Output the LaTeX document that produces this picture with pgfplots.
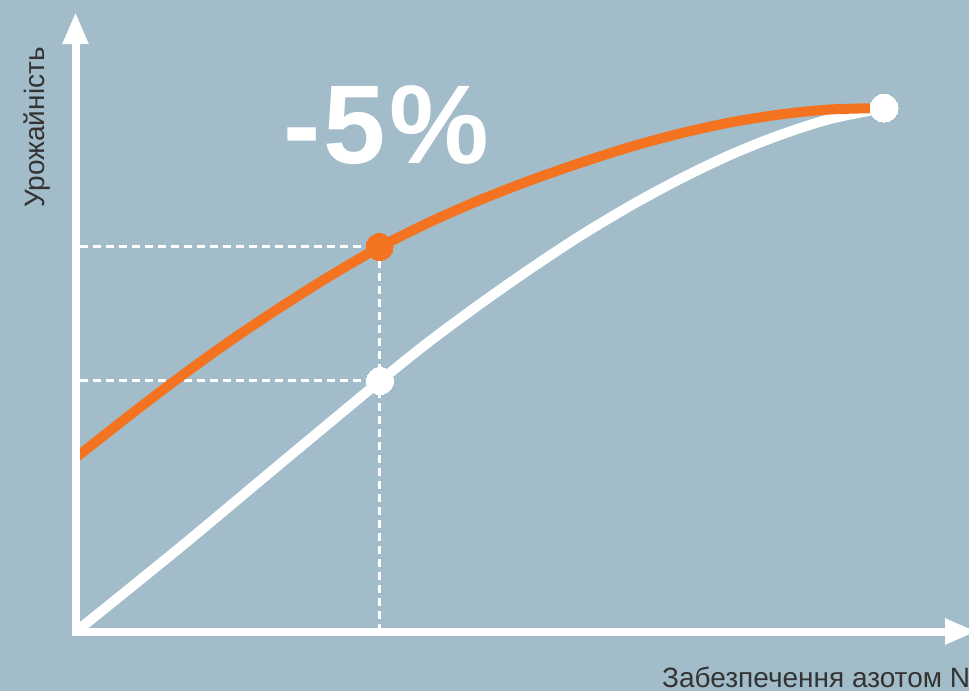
\documentclass[border=0pt]{standalone}
\usepackage{fontspec}
\setmainfont{Liberation Sans}
\usepackage{pgfplots}
\pgfplotsset{compat=1.18}
\usetikzlibrary{arrows.meta}
\definecolor{bg}{RGB}{162,189,201}
\definecolor{org}{RGB}{243,115,33}
\definecolor{txt}{RGB}{51,51,51}
\begin{document}
\begin{tikzpicture}
\useasboundingbox (0,0) rectangle (969pt,691pt);
\clip (0,0) rectangle (969pt,691pt);
\begin{axis}[at={(0,0)}, anchor=south west, scale only axis,
  width=969pt, height=691pt, xmin=0, xmax=969, ymin=0, ymax=691,
  y dir=reverse, axis line style={draw=none}, ticks=none,
  axis background/.style={fill=bg}, clip=false]
% dashed guides
\addplot[white, line width=2.5pt, dash pattern=on 8pt off 5pt] coordinates {(80,246.5)(379.5,246.5)};
\addplot[white, line width=2.5pt, dash pattern=on 8pt off 5pt] coordinates {(80,380.5)(379.5,380.5)};
\addplot[white, line width=2.5pt, dash pattern=on 8pt off 5pt] coordinates {(379.5,247)(379.5,628)};
% white curve
\addplot[white, line width=10pt, smooth] coordinates {
(78,630)(180,547.5)(280,464)(380,381)(430,341)(480,304)(530,269)(580,236)
(630,206)(680,179)(730,155)(780,135)(830,119)(884,108)};
% orange curve
\addplot[org, line width=10pt, smooth] coordinates {
(76,457.5)(130,415)(180,377)(230,341)(280,307.5)(330,276)(380,247)(430,222)
(480,200)(530,180.5)(580,163)(630,147)(680,133.5)(730,122.5)(780,114.5)(830,109.5)(884,108)};
% axes
\addplot[white, line width=8pt, -{Triangle[width=24pt,length=32pt]}] coordinates {(75.5,636)(75.5,12)};
\addplot[white, line width=8pt, -{Triangle[width=24pt,length=32pt]}] coordinates {(71.5,631.5)(977,631.5)};
% markers
\addplot[only marks, color=org, mark=*, mark size=13.5pt, mark options={fill=org, draw=org, line width=0pt}] coordinates {(379.5,247)};
\addplot[only marks, color=white, mark=*, mark size=13.5pt, mark options={fill=white, draw=white, line width=0pt}] coordinates {(380,381)};
\addplot[only marks, color=white, mark=*, mark size=14pt, mark options={fill=white, draw=white, line width=0pt}] coordinates {(884,108)};
% texts
\node[anchor=base west, text=white, font=\fontsize{112}{120}\selectfont\bfseries\addfontfeature{LetterSpace=3}, inner sep=0pt] at (axis cs:283,163) {-5\%};
\node[rotate=90, anchor=base, text=txt, font=\fontsize{28}{32}\selectfont, inner sep=0pt] at (axis cs:44,127.5) {Урожайність};
\node[anchor=base west, text=txt, font=\fontsize{28}{32}\selectfont, inner sep=0pt] at (axis cs:662,687) {Забезпечення азотом N};
\end{axis}
\end{tikzpicture}
\end{document}
